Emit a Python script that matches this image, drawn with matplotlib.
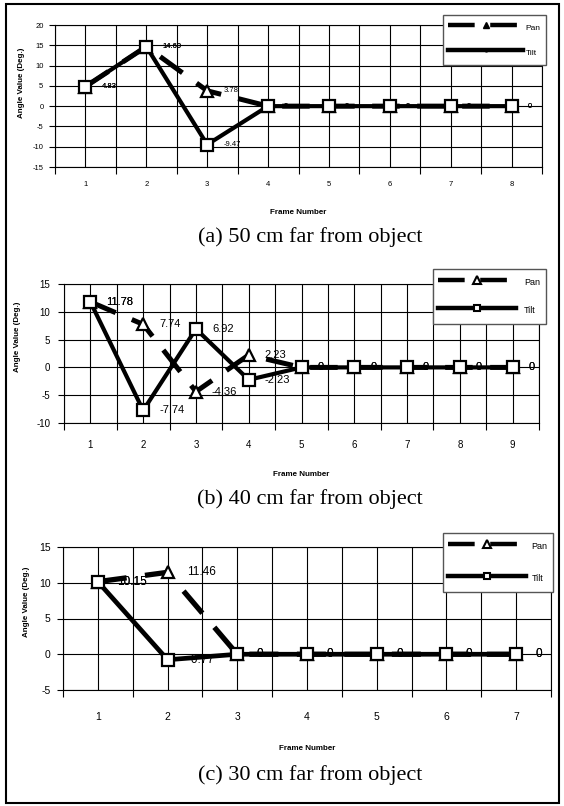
import matplotlib
matplotlib.use('Agg')
import numpy as np
from matplotlib import pyplot as plt
from matplotlib.lines import Line2D
from matplotlib.patches import Rectangle

plt.rcParams['axes.unicode_minus'] = False

W, H = 564, 806

# (a) 50 cm far from object
frames_a = [1, 2, 3, 4, 5, 6, 7, 8]
pan_a = [4.83, 14.69, 3.78, 0, 0, 0, 0, 0]
tilt_a = [4.83, 14.69, -9.47, 0, 0, 0, 0, 0]
yticks_a = [-15, -10, -5, 0, 5, 10, 15, 20]

# (b) 40 cm far from object
frames_b = [1, 2, 3, 4, 5, 6, 7, 8, 9]
pan_b = [11.78, 7.74, -4.36, 2.23, 0, 0, 0, 0, 0]
tilt_b = [11.78, -7.74, 6.92, -2.23, 0, 0, 0, 0, 0]
yticks_b = [-10, -5, 0, 5, 10, 15]

# (c) 30 cm far from object
frames_c = [1, 2, 3, 4, 5, 6, 7]
pan_c = [10.15, 11.46, 0, 0, 0, 0, 0]
tilt_c = [10.15, -0.77, 0, 0, 0, 0, 0]
yticks_c = [-5, 0, 5, 10, 15]

series_names = ['Pan', 'Tilt']
captions = ['(a) 50 cm far from object', '(b) 40 cm far from object', '(c) 30 cm far from object']

SANS = 'Liberation Sans'
SERIF = 'Liberation Serif'


def fig_xy(x, y):
    return x / W, 1 - y / H


def add_panel(fig, box, frames, pan, tilt, yticks, caption, cfg):
    left, top, right, bottom = box
    ax = fig.add_axes([left / W, 1 - bottom / H, (right - left) / W, (bottom - top) / H])
    n = len(frames)
    ax.set_xlim(0.5, n + 0.5)
    ax.set_ylim(yticks[0], yticks[-1])

    bounds = np.arange(0.5, n + 1, 1.0)
    ax.set_xticks(bounds, labels=[''] * len(bounds))
    ax.set_xticks(frames, labels=[str(f) for f in frames], minor=True)
    ax.set_yticks(yticks)
    ax.tick_params(axis='x', which='major', length=5, width=0.8, direction='out')
    ax.tick_params(axis='x', which='minor', length=0, pad=cfg['xpad'], labelsize=cfg['tick'])
    ax.tick_params(axis='y', length=4, width=0.8, pad=cfg['ypad'], labelsize=cfg['tick'])
    for lab in ax.get_xticklabels(minor=True) + ax.get_yticklabels():
        lab.set_family(SANS)

    ax.grid(True, which='both', axis='x', color='k', lw=0.8)
    ax.grid(True, which='major', axis='y', color='k', lw=0.8)
    ax.set_axisbelow(True)
    for sp in ax.spines.values():
        sp.set_color('k')
        sp.set_linewidth(0.8)

    ax.plot(frames, pan, color='k', lw=cfg['pan_lw'], ls=(0, (5.5, 3.5)),
            dash_capstyle='butt', marker='^', ms=cfg['ms'], mfc='white',
            mec='k', mew=1.6, zorder=3)
    ax.plot(frames, tilt, color='k', lw=cfg['tilt_lw'], marker='s', ms=cfg['ms'],
            mfc='white', mec='k', mew=1.6, zorder=4)

    # data labels sit under the lines, like the original
    for vals in (pan, tilt):
        for x, v in zip(frames, vals):
            ax.annotate(f'{v:g}', (x, v), xytext=(cfg['lab_off'], 0),
                        textcoords='offset points', ha='left', va='center',
                        fontsize=cfg['lab'], family=SANS, zorder=2)

    if cfg['small_leg']:
        h_pan = Line2D([], [], color='k', lw=3.2, ls=(0, (6, 3.5)), marker='^',
                       ms=4, mfc='k', mec='k')
        h_tilt = Line2D([], [], color='k', lw=3.2, marker='o', ms=2, mfc='k', mec='k')
    else:
        h_pan = Line2D([], [], color='k', lw=3.2, ls=(0, (6, 3.5)), marker='^',
                       ms=6, mfc='white', mec='k', mew=1.5)
        h_tilt = Line2D([], [], color='k', lw=3.2, marker='s', ms=5,
                        mfc='white', mec='k', mew=1.5)
    lx, ly = fig_xy(*cfg['leg_xy'])
    leg = ax.legend([h_pan, h_tilt], series_names, loc='upper left',
                    bbox_to_anchor=(lx, ly), bbox_transform=fig.transFigure,
                    borderaxespad=0, fancybox=False, framealpha=1,
                    edgecolor='#555555', prop={'family': SANS, 'size': cfg['leg']},
                    handlelength=cfg['hlen'], handleheight=2.4,
                    handletextpad=cfg['tpad'], borderpad=0.6,
                    labelspacing=cfg['lspace'])
    leg.get_frame().set_linewidth(1.0)

    x, y = fig_xy(*cfg['ylab_xy'])
    fig.text(x, y, 'Angle Value (Deg.)', rotation=90, ha='center', va='center',
             fontsize=cfg['axlab'], fontweight='bold', family=SANS)
    x, y = fig_xy((left + right) / 2, cfg['xlab_y'])
    fig.text(x, y, 'Frame Number', ha='center', va='center',
             fontsize=cfg['axlab'], fontweight='bold', family=SANS)
    x, y = fig_xy(310, cfg['cap_y'])
    fig.text(x, y, caption, ha='center', va='center', fontsize=16, family=SERIF)
    return ax


fig = plt.figure(figsize=(W / 100, H / 100), dpi=100)

cfg_a = dict(xpad=9.8, ypad=4.3, tick=5.5, lab=5.5, lab_off=11.5, ms=8,
             pan_lw=3.6, tilt_lw=3.0, small_leg=True, leg=6, hlen=9.0, tpad=0.3,
             lspace=1.2, leg_xy=(443, 15), ylab_xy=(22, 83),
             xlab_y=213, cap_y=237, axlab=5.8)
cfg_b = dict(xpad=12.3, ypad=5.8, tick=7, lab=8, lab_off=11.5, ms=8,
             pan_lw=3.6, tilt_lw=3.0, small_leg=False, leg=6.5, hlen=8.6, tpad=0.9,
             lspace=1.3, leg_xy=(433, 269), ylab_xy=(18, 337),
             xlab_y=474, cap_y=499, axlab=5.8)
cfg_c = dict(xpad=15.8, ypad=5.0, tick=7.5, lab=8.5, lab_off=14, ms=8.5,
             pan_lw=3.8, tilt_lw=3.4, small_leg=False, leg=6.5, hlen=8.6, tpad=0.6,
             lspace=1.75, leg_xy=(443, 533), ylab_xy=(27, 602),
             xlab_y=749, cap_y=775, axlab=5.8)

add_panel(fig, (55, 25, 542, 167), frames_a, pan_a, tilt_a, yticks_a, captions[0], cfg_a)
add_panel(fig, (64, 284, 539, 423), frames_b, pan_b, tilt_b, yticks_b, captions[1], cfg_b)
add_panel(fig, (63, 547, 551, 690), frames_c, pan_c, tilt_c, yticks_c, captions[2], cfg_c)

# outer frame round the whole figure
x0, y0 = fig_xy(6, 803)
fig.add_artist(Rectangle((x0, y0), (559 - 6) / W, (803 - 4) / H, transform=fig.transFigure,
                         fill=False, ec='k', lw=1.5))

fig.savefig('out.png', dpi=100)
